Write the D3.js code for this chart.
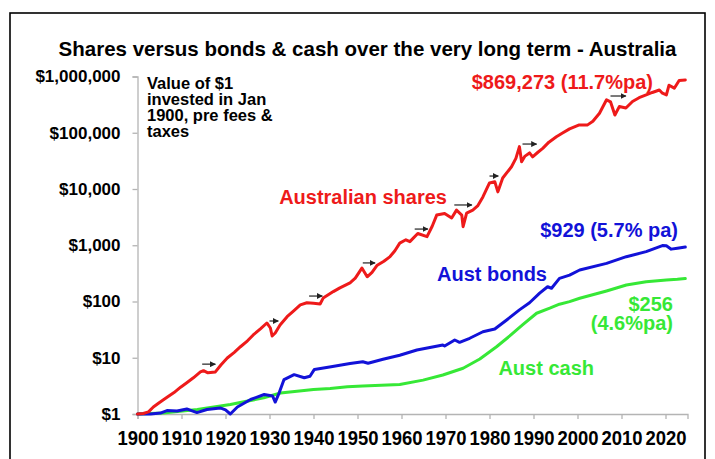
<!DOCTYPE html>
<html>
<head>
<meta charset="utf-8">
<script src="https://cdn.jsdelivr.net/npm/d3@7"></script>
<style>
  body { margin: 0; background: #fff; }
  svg { display: block; font-family: Arial, "Liberation Sans", sans-serif; }
</style>
</head>
<body>
<div id="chart"></div>
<script>
// chart data (year, value of $1 invested Jan 1900)
const chartTitle = "Shares versus bonds & cash over the very long term - Australia";
const noteLines = ["Value of $1", "invested in Jan", "1900, pre fees &", "taxes"];
const xTicks = [1900, 1910, 1920, 1930, 1940, 1950, 1960, 1970, 1980, 1990, 2000, 2010, 2020];
const yTicks = [1, 10, 100, 1000, 10000, 100000, 1000000];

const shares = [
  [1900, 1], [1901.3, 1.02], [1902.5, 1.09], [1903.6, 1.33], [1905, 1.6], [1906.8, 2.0],
  [1908.3, 2.4], [1909.8, 3.0], [1911.2, 3.6], [1912.7, 4.4], [1914.3, 5.6], [1915, 5.9],
  [1916, 5.4], [1917.7, 5.6], [1919, 7.5], [1920.4, 9.9], [1922, 12.5], [1923.4, 15.7],
  [1925, 20], [1926.3, 25.4], [1928, 33], [1929.4, 41.5], [1930.2, 33.8], [1930.6, 24.4],
  [1931.3, 27.6], [1932.4, 38.3], [1934, 53.7], [1935.5, 68], [1937, 86.9], [1938.5, 95],
  [1940, 93], [1941.5, 90.3], [1942.2, 115], [1944.5, 150], [1946, 175], [1948.3, 215],
  [1949.5, 260], [1951, 393], [1952.2, 275], [1953.3, 330], [1954.4, 435], [1956, 520],
  [1957.4, 629], [1958.5, 800], [1959.6, 1090], [1961, 1250], [1961.9, 1160], [1963.7, 1620],
  [1965.8, 1420], [1967, 2200], [1968, 3440], [1969.8, 3680], [1971.4, 3050], [1972.5, 4210],
  [1973.7, 3440], [1974, 2140], [1974.8, 3730], [1976.2, 4210], [1977.3, 5000], [1978.5, 7230],
  [1980, 12800], [1981.2, 13500], [1981.9, 8900], [1983, 15700], [1985, 24900], [1986, 35000],
  [1986.8, 56700], [1987.3, 30600], [1988, 38000], [1989.1, 43800], [1989.8, 37300], [1991, 45000],
  [1992.1, 52700], [1993.5, 68000], [1995.2, 85000], [1996.5, 98000], [1998.2, 117000],
  [2000.4, 138000], [2002.3, 138000], [2003.5, 160000], [2005, 222000], [2006.6, 385000],
  [2007.5, 355000], [2008.5, 207000], [2009.5, 292000], [2011, 275000], [2012.5, 360000],
  [2014, 420000], [2015.6, 470000], [2017, 520000], [2018.6, 575000], [2019.3, 505000],
  [2020.2, 470000], [2020.8, 700000], [2022, 620000], [2023.1, 850000], [2024.5, 869273]
];

const bonds = [
  [1900, 1], [1903, 1.0], [1905.2, 1.04], [1906.7, 1.15], [1909, 1.13], [1911.2, 1.23],
  [1913.5, 1.06], [1915.8, 1.2], [1918.8, 1.28], [1920, 1.18], [1921.1, 1.0], [1922.7, 1.33],
  [1925.7, 1.81], [1928.8, 2.22], [1930.7, 2.09], [1931.3, 1.63], [1932.2, 2.38], [1933.3, 4.1],
  [1935.6, 5.0], [1937.9, 4.4], [1939.2, 4.7], [1940.2, 6.2], [1944, 6.9], [1948.3, 7.9],
  [1951.2, 8.5], [1952.4, 8.0], [1955.8, 9.4], [1959.6, 11.1], [1963.5, 13.7], [1969.4, 16.8],
  [1969.8, 16.2], [1972.1, 20.7], [1973.2, 18.8], [1975.5, 22.2], [1978.5, 29], [1981.2, 32.5],
  [1983.9, 47], [1986.8, 71], [1989.1, 95], [1991.4, 141], [1993.2, 183], [1994.1, 172],
  [1995.9, 258], [1998.2, 295], [2000.5, 363], [2006.6, 477], [2011.1, 626], [2015.6, 770],
  [2019.3, 985], [2020.2, 975], [2021.3, 853], [2022.7, 887], [2024.5, 929]
];

const cash = [
  [1900, 1], [1905.8, 1.04], [1913.6, 1.2], [1921.1, 1.48], [1928.7, 1.94], [1932.5, 2.36],
  [1940, 2.73], [1943.8, 2.84], [1947.7, 3.05], [1951.2, 3.15], [1959.6, 3.34], [1964.9, 4.0],
  [1969.4, 4.94], [1974, 6.5], [1977.8, 9.5], [1981.6, 15.7], [1984.6, 24.4], [1987.5, 38.3],
  [1990.7, 61.8], [1993.7, 76], [1995.9, 89.5], [1998.2, 99.5], [2000.5, 114], [2006.6, 154],
  [2011.1, 196], [2015.6, 225], [2020.2, 240], [2022.7, 248], [2024.5, 256]
];

// small arrows over the share line: [from year, to year, value level]
const arrows = [
  [1914.7, 1917.7, 7.7], [1930, 1932, 45], [1939, 1942, 125], [1951.2, 1954, 485],
  [1963, 1966, 1940], [1972, 1976, 5200], [1980, 1982, 17000], [1987.5, 1990.7, 63000],
  [2007.5, 2011, 450000]
];

const width = 715, height = 459;
const red = "#ee1a1a", blue = "#1212d8", green = "#36e836";

const svg = d3.select("#chart").append("svg")
  .attr("width", width)
  .attr("height", height);

// frame
svg.append("rect")
  .attr("x", 10).attr("y", 13)
  .attr("width", 695).attr("height", 470)
  .attr("fill", "none")
  .attr("stroke", "#000")
  .attr("stroke-width", 1.6);

const x = d3.scaleLinear().domain([1900, 2025]).range([137.5, 687.5]);
const y = d3.scaleLog().domain([1, 1e6]).range([414, 76.5]);

// title
svg.append("text")
  .attr("x", 367.5).attr("y", 56)
  .attr("text-anchor", "middle")
  .attr("font-size", 20.5).attr("font-weight", "bold")
  .text(chartTitle);

// y axis
const yAxis = svg.append("g")
  .attr("transform", `translate(${x(1900)},0)`)
  .call(d3.axisLeft(y).tickValues(yTicks).tickSize(5).tickPadding(12)
    .tickFormat(d => "$" + d3.format(",")(d)));
yAxis.select(".domain").attr("stroke", "#b4b4b4").attr("stroke-width", 1.3);
yAxis.selectAll(".tick line").attr("stroke", "#b4b4b4").attr("stroke-width", 1.3);
yAxis.selectAll(".tick text")
  .attr("font-size", 17).attr("font-weight", "bold")
  .attr("font-family", "Arial, 'Liberation Sans', sans-serif")
  .attr("fill", "#000");

// x axis
const xAxis = svg.append("g")
  .attr("transform", `translate(0,${y(1)})`)
  .call(d3.axisBottom(x).tickValues(xTicks).tickSize(5).tickFormat(d3.format("d")));
xAxis.select(".domain").attr("stroke", "#b4b4b4").attr("stroke-width", 1.3);
xAxis.selectAll(".tick line").attr("stroke", "#b4b4b4").attr("stroke-width", 1.3);
xAxis.selectAll(".tick text")
  .attr("y", 31).attr("dy", 0)
  .attr("font-size", 20.5).attr("font-weight", "bold")
  .attr("font-family", "Arial, 'Liberation Sans', sans-serif")
  .attr("fill", "#000")
  .attr("textLength", 41)
  .attr("lengthAdjust", "spacingAndGlyphs");

// lines
const line = d3.line().x(d => x(d[0])).y(d => y(d[1]));
[[cash, green], [bonds, blue], [shares, red]].forEach(([data, color]) => {
  svg.append("path")
    .datum(data)
    .attr("d", line)
    .attr("fill", "none")
    .attr("stroke", color)
    .attr("stroke-width", 3)
    .attr("stroke-linejoin", "round")
    .attr("stroke-linecap", "round");
});

// arrows
svg.append("defs").append("marker")
  .attr("id", "head")
  .attr("viewBox", "0 0 10 10")
  .attr("refX", 9).attr("refY", 5)
  .attr("markerWidth", 6).attr("markerHeight", 6)
  .attr("markerUnits", "userSpaceOnUse")
  .attr("orient", "auto")
  .append("path")
  .attr("d", "M0,0 L10,5 L0,10 Z")
  .attr("fill", "#222");

svg.selectAll(".arrow")
  .data(arrows)
  .join("line")
  .attr("class", "arrow")
  .attr("x1", d => x(d[0])).attr("x2", d => x(d[1]))
  .attr("y1", d => y(d[2])).attr("y2", d => y(d[2]))
  .attr("stroke", "#222")
  .attr("stroke-width", 1.2)
  .attr("marker-end", "url(#head)");

// note
svg.append("text")
  .attr("font-size", 16.5).attr("font-weight", "bold")
  .selectAll("tspan")
  .data(noteLines)
  .join("tspan")
  .attr("x", 147)
  .attr("y", (d, i) => 89 + i * 16)
  .text(d => d);

// series labels
const labels = [
  { t: "$869,273 (11.7%pa)", x: 653, y: 89, c: red, a: "end" },
  { t: "Australian shares", x: 447, y: 204, c: red, a: "end" },
  { t: "$929 (5.7% pa)", x: 678, y: 237, c: blue, a: "end" },
  { t: "Aust bonds", x: 547, y: 281, c: blue, a: "end" },
  { t: "$256", x: 673, y: 311, c: green, a: "end" },
  { t: "(4.6%pa)", x: 673, y: 330, c: green, a: "end" },
  { t: "Aust cash", x: 594, y: 375, c: green, a: "end" }
];
svg.selectAll(".lbl")
  .data(labels)
  .join("text")
  .attr("class", "lbl")
  .attr("x", d => d.x).attr("y", d => d.y)
  .attr("text-anchor", d => d.a)
  .attr("fill", d => d.c)
  .attr("font-size", 20).attr("font-weight", "bold")
  .text(d => d.t);
</script>
</body>
</html>
